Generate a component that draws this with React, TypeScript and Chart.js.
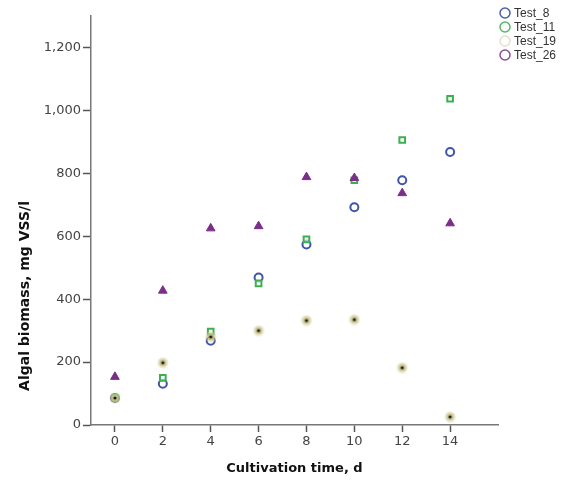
import React, { useEffect, useRef } from "react";
import { Chart, registerables } from "chart.js";

Chart.register(...registerables);

const days = [0, 2, 4, 6, 8, 10, 12, 14];
const test8 = [86, 131, 268, 469, 574, 692, 778, 868];
const test11 = [86, 150, 297, 450, 590, 778, 906, 1037];
const test19 = [86, 198, 280, 300, 332, 335, 182, 26];
const test26 = [153, 427, 625, 632, 788, 785, 737, 641];
const seriesNames = ["Test_8", "Test_11", "Test_19", "Test_26"];
const xTicks = [0, 2, 4, 6, 8, 10, 12, 14];
const yTicks = [0, 200, 400, 600, 800, 1000, 1200];
const xTitle = "Cultivation time, d";
const yTitle = "Algal biomass, mg VSS/l";

const legendColors = ["#4a5fae", "#55b86a", "#e4e0cc", "#8a4f98"];
const axisFont = "'DejaVu Sans', Arial, sans-serif";

function makeTanMarker(): HTMLCanvasElement {
  const c = document.createElement("canvas");
  c.width = 12;
  c.height = 12;
  const g = c.getContext("2d")!;
  g.fillStyle = "rgba(215,208,160,0.5)";
  g.beginPath();
  g.arc(6, 6, 5.5, 0, Math.PI * 2);
  g.fill();
  g.fillStyle = "rgba(195,188,130,0.85)";
  g.beginPath();
  g.arc(6, 6, 3.5, 0, Math.PI * 2);
  g.fill();
  g.fillStyle = "#1a1a10";
  g.beginPath();
  g.arc(6, 6, 1.6, 0, Math.PI * 2);
  g.fill();
  return c;
}

export default function App() {
  const ref = useRef<HTMLCanvasElement | null>(null);
  useEffect(() => {
    document.body.style.margin = "0";
    const toPts = (arr: number[]) => days.map((d, i) => ({ x: d, y: arr[i] }));
    const legendPlugin = {
      id: "customLegend",
      afterDraw(chart: any) {
        const ctx = chart.ctx;
        ctx.save();
        ctx.font = "12px 'Liberation Sans', Arial, sans-serif";
        ctx.textBaseline = "middle";
        ctx.textAlign = "left";
        seriesNames.forEach((name, i) => {
          const y = 13 + i * 14;
          ctx.strokeStyle = legendColors[i];
          ctx.lineWidth = 1.5;
          ctx.beginPath();
          ctx.arc(505, y, 5, 0, Math.PI * 2);
          ctx.stroke();
          ctx.fillStyle = "#333";
          ctx.fillText(name, 514, y + 1);
        });
        // y-axis title
        ctx.translate(25, 296);
        ctx.rotate(-Math.PI / 2);
        ctx.font = "bold 14px " + axisFont;
        ctx.fillStyle = "#111";
        ctx.textAlign = "center";
        ctx.fillText(yTitle, 0, 0);
        ctx.restore();
      },
    };
    const chart = new Chart(ref.current!, {
      type: "scatter",
      data: {
        datasets: [
          {
            label: seriesNames[0],
            data: toPts(test8),
            pointStyle: "circle",
            pointRadius: 4,
            borderColor: "#3f55a8",
            backgroundColor: "rgba(0,0,0,0)",
            borderWidth: 2,
            order: 2,
          },
          {
            label: seriesNames[1],
            data: toPts(test11),
            pointStyle: "rect",
            pointRadius: 4,
            borderColor: "#3cb050",
            backgroundColor: "rgba(255,255,255,0.6)",
            borderWidth: 2,
            order: 1,
          },
          {
            label: seriesNames[2],
            data: toPts(test19),
            pointStyle: makeTanMarker(),
            order: 0,
          },
          {
            label: seriesNames[3],
            data: toPts(test26),
            pointStyle: "triangle",
            pointRadius: 5,
            borderColor: "#7b2f88",
            backgroundColor: "#7b2f88",
            borderWidth: 1,
            order: 0,
          },
        ],
      },
      options: {
        animation: false,
        responsive: false,
        layout: { padding: { left: 0, right: 64, top: 16, bottom: 0 } },
        plugins: { legend: { display: false }, tooltip: { enabled: false } },
        scales: {
          x: {
            type: "linear",
            min: -1,
            max: 16,
            afterBuildTicks: (s: any) => {
              s.ticks = xTicks.map((v) => ({ value: v }));
            },
            afterFit: (s: any) => {
              s.height = 56;
            },
            grid: {
              drawOnChartArea: false,
              drawTicks: true,
              tickLength: 7,
              color: "#555",
              tickWidth: 1.5,
            },
            border: { display: true, color: "#777", width: 1.5 },
            ticks: {
              color: "#444",
              font: { family: axisFont, size: 13 },
              padding: 2,
              maxRotation: 0,
            },
            title: {
              display: true,
              text: xTitle,
              color: "#111",
              font: { family: axisFont, size: 13, weight: "bold" },
              padding: { top: 0, bottom: 5 },
            },
          },
          y: {
            type: "linear",
            min: 0,
            max: 1300,
            afterBuildTicks: (s: any) => {
              s.ticks = yTicks.map((v) => ({ value: v }));
            },
            afterFit: (s: any) => {
              s.width = 91;
            },
            grid: {
              drawOnChartArea: false,
              drawTicks: true,
              tickLength: 8,
              color: "#555",
              tickWidth: 1.5,
            },
            border: { display: true, color: "#777", width: 1.5 },
            ticks: {
              color: "#444",
              font: { family: axisFont, size: 13 },
              padding: 2,
              callback: (v: any) => Number(v).toLocaleString("en-US"),
            },
          },
        },
      },
      plugins: [legendPlugin],
    } as any);
    return () => chart.destroy();
  }, []);
  return (
    <div style={{ position: "absolute", left: 0, top: 0, width: 562, height: 481, background: "#fff" }}>
      <canvas ref={ref} width={562} height={481} style={{ width: 562, height: 481 }} />
    </div>
  );
}
